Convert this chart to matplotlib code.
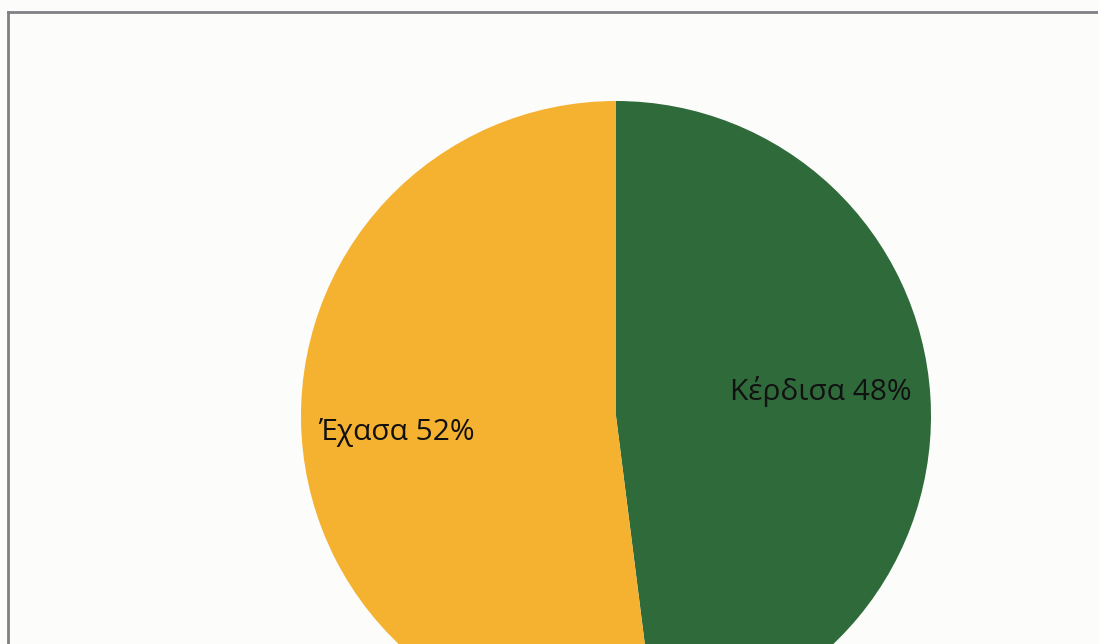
import matplotlib
matplotlib.use("Agg")
import matplotlib.pyplot as plt
from matplotlib.lines import Line2D
import numpy as np

labels = ["Κέρδισα", "Έχασα"]
shares = [48, 52]
colors = ["#2F6A3B", "#F5B130"]

W, H = 1098, 644
fig = plt.figure(figsize=(W / 100, H / 100), dpi=100, facecolor="#FCFDFB")
ax = fig.add_axes([0, 0, 1, 1])

cx, cy, R = 616, H - 416, 315
wedges, _ = ax.pie(shares, colors=colors, startangle=90, counterclock=False,
                   center=(cx, cy), radius=R, frame=True,
                   wedgeprops=dict(linewidth=0, antialiased=True))
ax.set_xlim(0, W)
ax.set_ylim(0, H)
ax.set_aspect("equal")
ax.axis("off")

# labels placed near each wedge's middle angle
label_r = [0.655, 0.70]
label_shift = [3.1, 0.8]
for w, name, val, lr, sh in zip(wedges, labels, shares, label_r, label_shift):
    mid = np.deg2rad((w.theta1 + w.theta2) / 2 + sh)
    x = cx + lr * R * np.cos(mid)
    y = cy + lr * R * np.sin(mid)
    ax.text(x, y, f"{name} {val}%", ha="center", va="center",
            fontsize=21.5, family="Open Sans", color="#111111")

# thin grey frame along the top and left
fig.add_artist(Line2D([8 / W, 1], [1 - 12 / H, 1 - 12 / H], color="#7F7F85", lw=2))
fig.add_artist(Line2D([8 / W, 8 / W], [0, 1 - 12 / H], color="#7F7F85", lw=2))

fig.savefig("out.png", dpi=100, facecolor=fig.get_facecolor())
